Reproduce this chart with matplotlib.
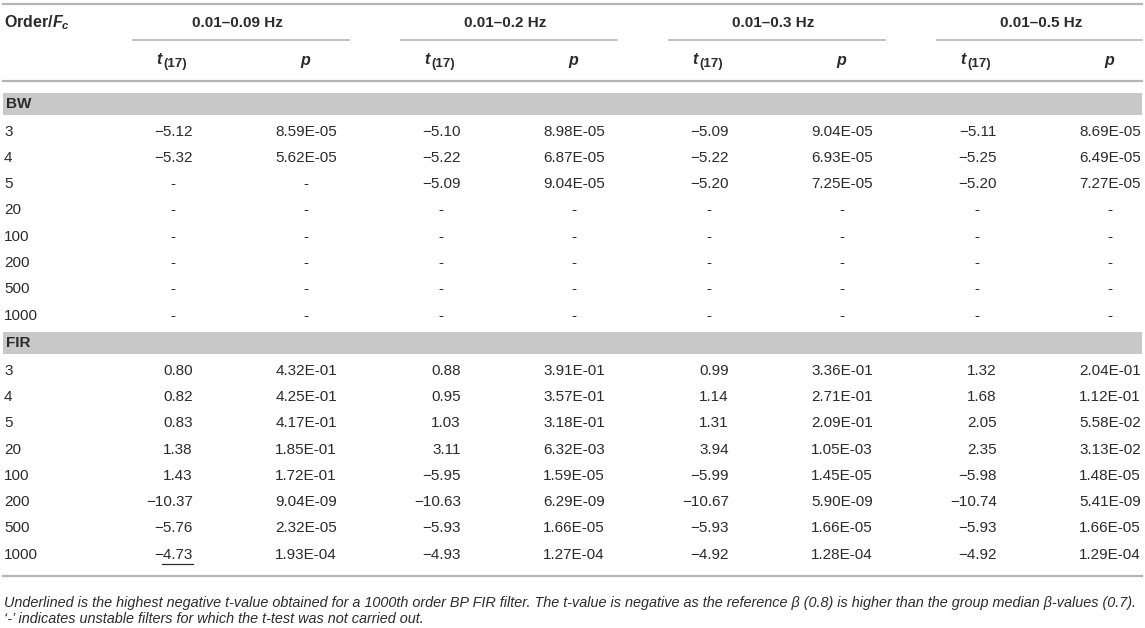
import matplotlib
matplotlib.use('Agg')
from matplotlib import pyplot as plt

plt.rcParams['font.family'] = ['Liberation Sans', 'DejaVu Sans']
plt.rcParams['mathtext.fontset'] = 'custom'
plt.rcParams['mathtext.rm'] = 'Liberation Sans:bold'
plt.rcParams['mathtext.it'] = 'Liberation Sans:italic:bold'
plt.rcParams['mathtext.bf'] = 'Liberation Sans:bold'

bands = ['0.01–0.09 Hz', '0.01–0.2 Hz', '0.01–0.3 Hz', '0.01–0.5 Hz']
orders = ['3', '4', '5', '20', '100', '200', '500', '1000']
filters = ['BW', 'FIR']

# t values per order, one entry per band (None = unstable filter)
bw_t = [
    [-5.12, -5.10, -5.09, -5.11],
    [-5.32, -5.22, -5.22, -5.25],
    [None, -5.09, -5.20, -5.20],
    [None, None, None, None],
    [None, None, None, None],
    [None, None, None, None],
    [None, None, None, None],
    [None, None, None, None],
]
bw_p = [
    [8.59e-05, 8.98e-05, 9.04e-05, 8.69e-05],
    [5.62e-05, 6.87e-05, 6.93e-05, 6.49e-05],
    [None, 9.04e-05, 7.25e-05, 7.27e-05],
    [None, None, None, None],
    [None, None, None, None],
    [None, None, None, None],
    [None, None, None, None],
    [None, None, None, None],
]
fir_t = [
    [0.80, 0.88, 0.99, 1.32],
    [0.82, 0.95, 1.14, 1.68],
    [0.83, 1.03, 1.31, 2.05],
    [1.38, 3.11, 3.94, 2.35],
    [1.43, -5.95, -5.99, -5.98],
    [-10.37, -10.63, -10.67, -10.74],
    [-5.76, -5.93, -5.93, -5.93],
    [-4.73, -4.93, -4.92, -4.92],
]
fir_p = [
    [4.32e-01, 3.91e-01, 3.36e-01, 2.04e-01],
    [4.25e-01, 3.57e-01, 2.71e-01, 1.12e-01],
    [4.17e-01, 3.18e-01, 2.09e-01, 5.58e-02],
    [1.85e-01, 6.32e-03, 1.05e-03, 3.13e-02],
    [1.72e-01, 1.59e-05, 1.45e-05, 1.48e-05],
    [9.04e-09, 6.29e-09, 5.90e-09, 5.41e-09],
    [2.32e-05, 1.66e-05, 1.66e-05, 1.66e-05],
    [1.93e-04, 1.27e-04, 1.28e-04, 1.29e-04],
]
underlined = ('FIR', '1000', 0)  # filter, order, band index

footnote = [
    "Underlined is the highest negative t-value obtained for a 1000th order BP FIR filter. "
    "The t-value is negative as the reference β (0.8) is higher than the group median β-values (0.7).",
    "‘-’ indicates unstable filters for which the t-test was not carried out.",
]

W, H = 1145, 628
txt = '#2b2b2b'
rule = '#b5b5b5'
band_col = '#c8c8c8'
fs = 11

fig = plt.figure(figsize=(W / 100, H / 100), dpi=100)
ax = fig.add_axes([0, 0, 1, 1])
ax.set_xlim(0, W)
ax.set_ylim(H, 0)
ax.axis('off')

x0, x1 = 3, 1142
pitch = 268
t_right = [193 + i * pitch for i in range(4)]
t_mid = [170 + i * pitch for i in range(4)]
p_mid = [306 + i * pitch for i in range(4)]
grp_mid = [237 + i * pitch for i in range(4)]

# header
ax.plot([x0, x1], [4, 4], color=rule, lw=1.6)
ax.text(4, 23, r'Order/$F_c$', fontsize=fs + 0.5, fontweight='bold', color=txt, va='center', ha='left')
for i, b in enumerate(bands):
    ax.text(grp_mid[i], 23, b, fontsize=fs, fontweight='bold', color=txt, va='center', ha='center')
    ax.plot([grp_mid[i] - 104, min(grp_mid[i] + 112, x1)], [40, 40], color=rule, lw=1.2)
    ax.text(t_mid[i] - 8, 60, 't', fontsize=fs + 0.5, fontweight='bold', style='italic',
            color=txt, va='center', ha='right')
    ax.text(t_mid[i] - 7, 64.5, '(17)', fontsize=fs - 1.5, fontweight='bold',
            color=txt, va='center', ha='left')
    ax.text(p_mid[i], 62, r'$p$', fontsize=fs + 0.5, color=txt, va='center', ha='center')
ax.plot([x0, x1], [81, 81], color=rule, lw=1.6)

rows_all = [(bw_t, bw_p), (fir_t, fir_p)]
y = 104
for f, (tv, pv) in zip(filters, rows_all):
    ax.fill_between([x0, x1], y - 11, y + 11, color=band_col, lw=0)
    ax.text(6, y, f, fontsize=fs, fontweight='bold', color=txt, va='center', ha='left')
    y += 27.5
    for r, o in enumerate(orders):
        ax.text(4, y, o, fontsize=fs, color=txt, va='center', ha='left')
        for i in range(4):
            t = tv[r][i]
            p = pv[r][i]
            if t is None:
                ax.text(t_mid[i] + 3, y, '-', fontsize=fs, color=txt, va='center', ha='center')
            else:
                s = f'{t:.2f}'.replace('-', '−')
                ax.text(t_right[i], y, s, fontsize=fs, color=txt, va='center', ha='right')
                if (f, o, i) == underlined:
                    ax.plot([t_right[i] - 31, t_right[i]], [y + 9, y + 9], color=txt, lw=0.9)
            if p is None:
                ax.text(p_mid[i], y, '-', fontsize=fs, color=txt, va='center', ha='center')
            else:
                ax.text(p_mid[i], y, f'{p:.2E}', fontsize=fs, color=txt, va='center', ha='center')
        y += 26.3
    y = y - 26.3 + 27.5

ax.plot([x0, x1], [576, 576], color=rule, lw=1.6)
ax.text(4, 603, footnote[0], fontsize=10.35, style='italic', color=txt, va='center', ha='left')
ax.text(4, 619, footnote[1], fontsize=10.35, style='italic', color=txt, va='center', ha='left')

fig.savefig('out.png', dpi=100)
